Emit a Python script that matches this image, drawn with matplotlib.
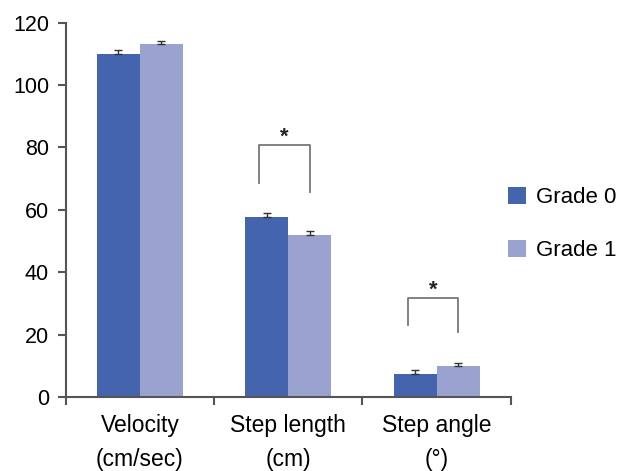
import numpy as np
import matplotlib.pyplot as plt

plt.rcParams['font.family'] = ['Liberation Sans', 'DejaVu Sans']

# data
categories = ['Velocity\n(cm/sec)', 'Step length\n(cm)', 'Step angle\n(°)']
grade0 = [110.0, 57.7, 7.4]
grade1 = [113.2, 51.9, 9.9]
err0 = [1.3, 1.4, 1.3]
err1 = [1.0, 1.3, 1.0]
series_labels = ['Grade 0', 'Grade 1']
# significance brackets: (category index, top, left leg end, right leg end)
brackets = [(1, 80.8, 68.6, 65.7), (2, 31.7, 23.1, 20.8)]

c0 = '#4464ad'
c1 = '#9aa3cf'
axis_col = '#555555'

fig = plt.figure(figsize=(6.27, 4.71), dpi=100)
ax = fig.add_axes([0.1048, 0.1571, 0.7097, 0.7949])

x = np.arange(len(categories))
w = 0.29
ax.bar(x - w/2, grade0, w, color=c0, label=series_labels[0])
ax.bar(x + w/2, grade1, w, color=c1, label=series_labels[1])
ax.errorbar(x - w/2, grade0, yerr=[np.zeros(3), err0], fmt='none',
            ecolor='#333333', elinewidth=1, capsize=3, capthick=1)
ax.errorbar(x + w/2, grade1, yerr=[np.zeros(3), err1], fmt='none',
            ecolor='#333333', elinewidth=1, capsize=3, capthick=1)

for i, top, yl, yr in brackets:
    xl, xr = i - 0.195, i + 0.148
    ax.plot([xl, xl, xr, xr], [yl, top, top, yr], color='#777777', lw=1.3)
    ax.text((xl + xr) / 2, top + 2.6, '*', ha='center', va='center',
            fontsize=16, fontweight='bold', color='#222222')

ax.set_xlim(-0.5, 2.5)
ax.set_ylim(0, 120)
ax.set_yticks(np.arange(0, 121, 20))
ax.set_xticks(x)
ax.set_xticklabels(categories, linespacing=1.62)
ax.set_xticks(np.arange(-0.5, 2.6, 1), minor=True)
ax.tick_params(axis='x', which='major', length=0, pad=12, labelsize=16.5)
ax.tick_params(axis='x', which='minor', length=6, width=1.5,
               color=axis_col, direction='out')
ax.tick_params(axis='y', length=6, width=1.5, color=axis_col,
               pad=6, labelsize=15.5)

for s in ['top', 'right']:
    ax.spines[s].set_visible(False)
for s in ['left', 'bottom']:
    ax.spines[s].set_color(axis_col)
    ax.spines[s].set_linewidth(1.5)

ax.legend(loc='center left', bbox_to_anchor=(0.948, 0.462), frameon=False,
          fontsize=16, handlelength=0.82, handleheight=0.82,
          handletextpad=0.45, labelspacing=1.4)

fig.savefig('out.png', dpi=100)
